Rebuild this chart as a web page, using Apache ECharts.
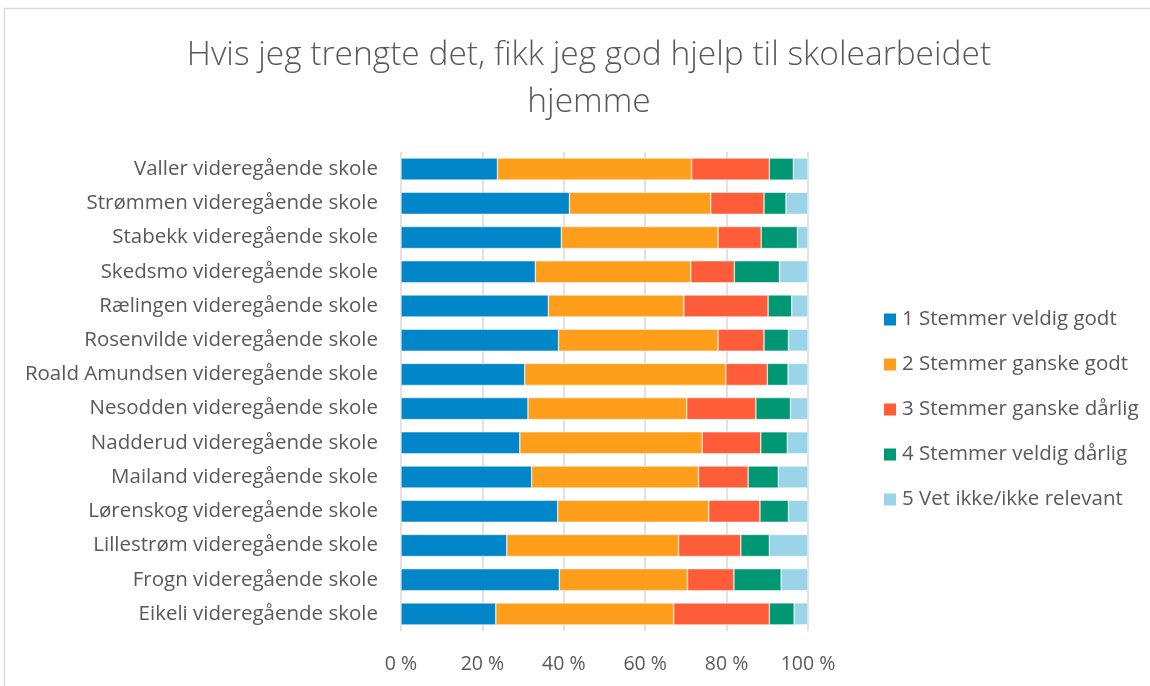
<!DOCTYPE html>
<html>
<head>
    <meta charset="utf-8">
    <title>Hvis jeg trengte det, fikk jeg god hjelp til skolearbeidet hjemme</title>
    <script src="https://cdn.jsdelivr.net/npm/echarts@6/dist/echarts.min.js"></script>
    <style>
        html, body { margin: 0; padding: 0; background: #fff; }
        #main { width: 1150px; height: 686px; }
    </style>
</head>
<body>
<div id="main"></div>
<script>
    // skoler, fra toppen og nedover
    var skoler = [
        'Valler videregående skole',
        'Strømmen videregående skole',
        'Stabekk videregående skole',
        'Skedsmo videregående skole',
        'Rælingen videregående skole',
        'Rosenvilde videregående skole',
        'Roald Amundsen videregående skole',
        'Nesodden videregående skole',
        'Nadderud videregående skole',
        'Mailand videregående skole',
        'Lørenskog videregående skole',
        'Lillestrøm videregående skole',
        'Frogn videregående skole',
        'Eikeli videregående skole'
    ];

    var svarNavn = [
        '1 Stemmer veldig godt',
        '2 Stemmer ganske godt',
        '3 Stemmer ganske dårlig',
        '4 Stemmer veldig dårlig',
        '5 Vet ikke/ikke relevant'
    ];

    // prosent per svar, samme rekkefolge som skoler
    var veldigGodt   = [23.7, 41.4, 39.4, 33.0, 36.2, 38.7, 30.4, 31.2, 29.2, 32.1, 38.5, 26.0, 38.9, 23.3];
    var ganskeGodt   = [47.7, 34.7, 38.5, 38.2, 33.3, 39.2, 49.4, 39.0, 44.8, 41.0, 37.1, 42.2, 31.5, 43.7];
    var ganskeDarlig = [19.1, 13.1, 10.6, 10.7, 20.7, 11.3, 10.2, 17.0, 14.4, 12.2, 12.6, 15.3, 11.4, 23.5];
    var veldigDarlig = [5.9, 5.4, 8.9, 11.1, 5.8, 6.0, 5.1, 8.5, 6.5, 7.4, 7.0, 7.0, 11.6, 6.1];
    var vetIkke      = [3.6, 5.4, 2.6, 7.0, 4.0, 4.8, 4.9, 4.3, 5.1, 7.3, 4.8, 9.5, 6.6, 3.4];

    var farger = ['#0086C9', '#FF9E1B', '#FF5C39', '#009775', '#9AD4E8'];
    var tekstFarge = '#595959';
    var font = 'Open Sans';

    var verdier = [veldigGodt, ganskeGodt, ganskeDarlig, veldigDarlig, vetIkke];

    var myChart = echarts.init(document.getElementById('main'));

    myChart.setOption({
        animation: false,
        color: farger,
        // ramme rundt diagrammet
        graphic: [{
            type: 'rect',
            shape: { x: 4.5, y: 8.5, width: 1200, height: 700 },
            style: { fill: 'none', stroke: '#d9d9d9', lineWidth: 1.5 },
            silent: true
        }],
        title: {
            text: 'Hvis jeg trengte det, fikk jeg god hjelp til skolearbeidet\nhjemme',
            left: 584,
            top: 27,
            textAlign: 'center',
            textStyle: {
                color: tekstFarge,
                fontFamily: font,
                fontWeight: 300,
                fontSize: 33.5,
                lineHeight: 47
            }
        },
        legend: {
            orient: 'vertical',
            left: 877,
            top: 304,
            itemWidth: 14,
            itemHeight: 14,
            itemGap: 24,
            icon: 'rect',
            textStyle: {
                color: tekstFarge,
                fontFamily: font,
                fontSize: 20.5
            },
            data: svarNavn
        },
        grid: {
            left: 401,
            right: 342,
            top: 152,
            bottom: 55,
            containLabel: false
        },
        xAxis: {
            type: 'value',
            min: 0,
            max: 100,
            interval: 20,
            axisLine: { show: false },
            axisTick: { show: false },
            axisLabel: {
                color: tekstFarge,
                fontFamily: font,
                fontSize: 19.5,
                margin: 23,
                formatter: '{value} %'
            },
            splitLine: {
                lineStyle: { color: '#d9d9d9', width: 1.5 }
            }
        },
        yAxis: {
            type: 'category',
            inverse: true,
            data: skoler,
            axisLine: { show: false },
            axisTick: { show: false },
            axisLabel: {
                color: tekstFarge,
                fontFamily: font,
                fontSize: 20.5,
                margin: 23
            }
        },
        series: svarNavn.map(function (navn, i) {
            return {
                name: navn,
                type: 'bar',
                stack: 'total',
                barWidth: 22,
                data: verdier[i],
                itemStyle: {
                    borderColor: '#fff',
                    borderWidth: 0.5
                }
            };
        })
    });
</script>
</body>
</html>
